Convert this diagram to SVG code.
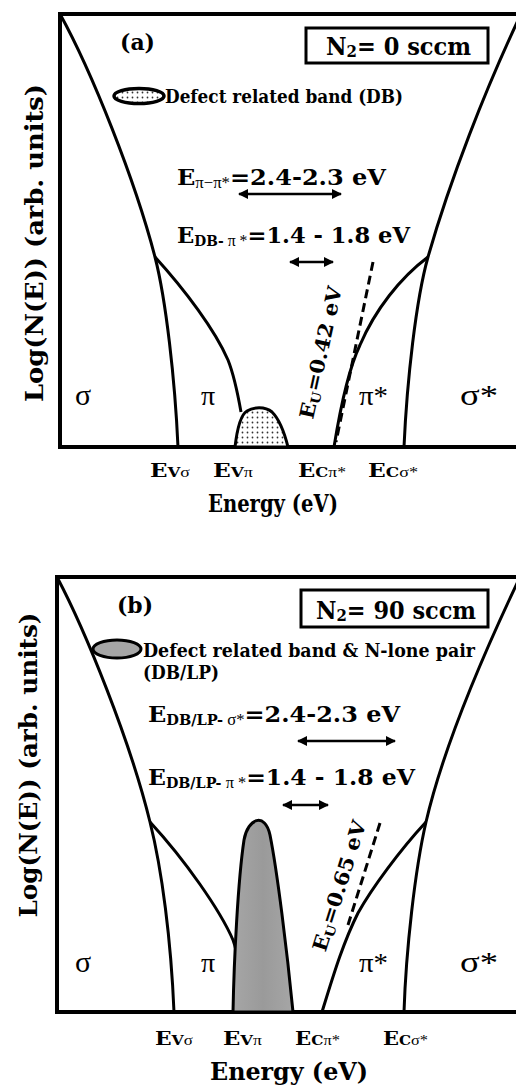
<svg xmlns="http://www.w3.org/2000/svg" width="516" height="1088" viewBox="0 0 516 1088">
<style>
.t{font-family:"DejaVu Serif","Liberation Serif",serif;font-weight:bold;fill:#000}
.g{font-family:"Liberation Serif","DejaVu Serif",serif;font-weight:normal;fill:#000}
.ax{fill:none;stroke:#000;stroke-width:4}
.cv{fill:none;stroke:#000;stroke-width:3}
.ds{fill:none;stroke:#000;stroke-width:3;stroke-dasharray:9,5}
.arr{stroke:#000;stroke-width:2.5;marker-start:url(#ah);marker-end:url(#ah)}
</style>
<defs>
<marker id="ah" viewBox="0 0 10 10" refX="9" refY="5" markerWidth="4" markerHeight="4" orient="auto-start-reverse" markerUnits="strokeWidth">
<path d="M0,0 L10,5 L0,10 Z" fill="#000"/>
</marker>
<pattern id="dots" width="5" height="5" patternUnits="userSpaceOnUse">
<rect width="5" height="5" fill="#fff"/>
<circle cx="2.5" cy="2.5" r="0.9" fill="#333"/>
</pattern>
<linearGradient id="gr" x1="0" y1="0" x2="1" y2="0">
<stop offset="0" stop-color="#a6a6a6"/>
<stop offset="0.5" stop-color="#9a9a9a"/>
<stop offset="1" stop-color="#a6a6a6"/>
</linearGradient>
</defs>
<rect width="516" height="1088" fill="#fff"/>

<!-- Panel (a) -->
<g id="panel-a-axes">
<path class="ax" d="M60,447 L60,14 L516,14"/>
<path class="ax" d="M58,447 L516,447"/>
</g>
<g id="panel-a-bands">
<path class="cv" d="M60,14 C92,72 135,180 155,257 C166,300 175,380 178,447"/>
<path class="cv" d="M155,257 C185,290 215,330 228,360 C234,375 238,395 241,412"/>
<path id="db-a" d="M235,447 C237,430 240,415 247,411 C253,407 265,406 272,412 C280,420 285,435 288,447 Z" fill="url(#dots)" stroke="#000" stroke-width="3"/>
<path class="cv" d="M334,447 C340,410 348,370 360,345 C375,310 400,278 428,257"/>
<path class="cv" d="M521,14 C485,90 450,180 428,257 C416,300 407,380 404,447"/>
</g>
<g id="connectors-a">
<path class="ds" d="M373,262 L336,442"/>
<line class="arr" x1="239" y1="194" x2="341" y2="194"/>
<line class="arr" x1="290" y1="262" x2="333" y2="262"/>
</g>
<g id="labels-a">
<text class="t" x="120" y="50" font-size="23" textLength="35" lengthAdjust="spacingAndGlyphs">(a)</text>
<g id="box-a">
<rect x="306" y="28" width="182" height="35" fill="none" stroke="#000" stroke-width="3"/>
<text class="t" x="326" y="55" font-size="24" textLength="145" lengthAdjust="spacingAndGlyphs">N<tspan font-size="16" dy="2">2</tspan><tspan dy="-2">= 0 sccm</tspan></text>
</g>
<g id="legend-a">
<ellipse cx="139" cy="96" rx="25" ry="7.5" fill="url(#dots)" stroke="#000" stroke-width="3.5"/>
<text class="t" x="165" y="103" font-size="19" textLength="238" lengthAdjust="spacingAndGlyphs">Defect related band (DB)</text>
</g>
<text class="t" x="177" y="185" font-size="23" textLength="209" lengthAdjust="spacingAndGlyphs">E<tspan class="g" font-size="16" dy="3">π−π*</tspan><tspan dy="-3">=2.4-2.3 eV</tspan></text>
<text class="t" x="177" y="243" font-size="23" textLength="233" lengthAdjust="spacingAndGlyphs">E<tspan font-size="14" dy="3">DB-</tspan><tspan class="g" font-size="16"> π *</tspan><tspan dy="-3">=1.4 - 1.8 eV</tspan></text>
<text class="t" font-size="20" text-anchor="middle" textLength="135" lengthAdjust="spacingAndGlyphs" transform="translate(327.5,354) rotate(-77.5)">E<tspan font-size="13" dy="3">U</tspan><tspan dy="-3">=0.42 eV</tspan></text>
<text class="g" x="75" y="405" font-size="30">σ</text>
<text class="g" x="201" y="405" font-size="28">π</text>
<text class="g" x="359" y="405" font-size="28" textLength="29" lengthAdjust="spacingAndGlyphs">π*</text>
<text class="g" x="460" y="405" font-size="29" textLength="38" lengthAdjust="spacingAndGlyphs">σ*</text>
<text class="t" x="150" y="477" font-size="18" textLength="40" lengthAdjust="spacingAndGlyphs">E<tspan font-size="13">V</tspan><tspan class="g" font-size="14">σ</tspan></text>
<text class="t" x="213" y="477" font-size="18" textLength="40" lengthAdjust="spacingAndGlyphs">E<tspan font-size="13">V</tspan><tspan class="g" font-size="14">π</tspan></text>
<text class="t" x="298" y="477" font-size="18" textLength="48" lengthAdjust="spacingAndGlyphs">E<tspan font-size="13">C</tspan><tspan class="g" font-size="14">π*</tspan></text>
<text class="t" x="368" y="477" font-size="18" textLength="50" lengthAdjust="spacingAndGlyphs">E<tspan font-size="13">C</tspan><tspan class="g" font-size="14">σ*</tspan></text>
<text class="t" x="208" y="512" font-size="24" textLength="130" lengthAdjust="spacingAndGlyphs">Energy (eV)</text>
<text class="t" font-size="24" text-anchor="middle" textLength="318" lengthAdjust="spacingAndGlyphs" transform="translate(43,243) rotate(-90)">Log(N(E)) (arb. units)</text>
</g>

<!-- Panel (b) -->
<g id="panel-b-axes">
<path class="ax" d="M57,1012 L57,577 L516,577"/>
<path class="ax" d="M55,1012 L516,1012"/>
</g>
<g id="panel-b-bands">
<path class="cv" d="M57,577 C85,630 130,740 150,822 C162,870 171,940 174,1012"/>
<path class="cv" d="M150,822 C185,860 220,910 233,940 C236,948 237,955 238,962"/>
<path id="db-b" d="M233,1012 C234,960 238,880 244,840 C248,818 265,812 270,835 C277,870 287,950 293,1012 Z" fill="url(#gr)" stroke="#000" stroke-width="3"/>
<path class="cv" d="M322,1012 C332,980 342,945 358,913 C372,888 400,850 426,822"/>
<path class="cv" d="M520,577 C490,640 445,740 426,822 C415,870 406,950 404,1012"/>
</g>
<g id="connectors-b">
<path class="ds" d="M380,823 L348,925"/>
<line class="arr" x1="298" y1="741" x2="395" y2="741"/>
<line class="arr" x1="283" y1="805" x2="328" y2="805"/>
</g>
<g id="labels-b">
<text class="t" x="117" y="613" font-size="23" textLength="36" lengthAdjust="spacingAndGlyphs">(b)</text>
<g id="box-b">
<rect x="301" y="590" width="187" height="37" fill="none" stroke="#000" stroke-width="3"/>
<text class="t" x="316" y="619" font-size="24" textLength="160" lengthAdjust="spacingAndGlyphs">N<tspan font-size="16" dy="2">2</tspan><tspan dy="-2">= 90 sccm</tspan></text>
</g>
<g id="legend-b">
<ellipse cx="117" cy="649" rx="24" ry="9" fill="#a6a6a6" stroke="#000" stroke-width="3"/>
<text class="t" x="143" y="657" font-size="19" textLength="332" lengthAdjust="spacingAndGlyphs">Defect related band &amp; N-lone pair</text>
<text class="t" x="143" y="679" font-size="19" textLength="76" lengthAdjust="spacingAndGlyphs">(DB/LP)</text>
</g>
<text class="t" x="148" y="722" font-size="23" textLength="252" lengthAdjust="spacingAndGlyphs">E<tspan font-size="14" dy="3">DB/LP-</tspan><tspan class="g" font-size="16"> σ*</tspan><tspan dy="-3">=2.4-2.3 eV</tspan></text>
<text class="t" x="148" y="785" font-size="23" textLength="267" lengthAdjust="spacingAndGlyphs">E<tspan font-size="14" dy="3">DB/LP-</tspan><tspan class="g" font-size="16"> π *</tspan><tspan dy="-3">=1.4 - 1.8 eV</tspan></text>
<text class="t" font-size="20" text-anchor="middle" textLength="136" lengthAdjust="spacingAndGlyphs" transform="translate(346,888) rotate(-72.5)">E<tspan font-size="13" dy="3">U</tspan><tspan dy="-3">=0.65 eV</tspan></text>
<text class="g" x="75" y="972" font-size="30">σ</text>
<text class="g" x="201" y="972" font-size="28">π</text>
<text class="g" x="359" y="972" font-size="28" textLength="29" lengthAdjust="spacingAndGlyphs">π*</text>
<text class="g" x="460" y="972" font-size="29" textLength="38" lengthAdjust="spacingAndGlyphs">σ*</text>
<text class="t" x="155" y="1045" font-size="18" textLength="38" lengthAdjust="spacingAndGlyphs">E<tspan font-size="13">V</tspan><tspan class="g" font-size="14">σ</tspan></text>
<text class="t" x="223" y="1045" font-size="18" textLength="39" lengthAdjust="spacingAndGlyphs">E<tspan font-size="13">V</tspan><tspan class="g" font-size="14">π</tspan></text>
<text class="t" x="295" y="1045" font-size="18" textLength="45" lengthAdjust="spacingAndGlyphs">E<tspan font-size="13">C</tspan><tspan class="g" font-size="14">π*</tspan></text>
<text class="t" x="383" y="1045" font-size="18" textLength="45" lengthAdjust="spacingAndGlyphs">E<tspan font-size="13">C</tspan><tspan class="g" font-size="14">σ*</tspan></text>
<text class="t" x="210" y="1080" font-size="24" textLength="158" lengthAdjust="spacingAndGlyphs">Energy (eV)</text>
<text class="t" font-size="24" text-anchor="middle" textLength="305" lengthAdjust="spacingAndGlyphs" transform="translate(37,765) rotate(-90)">Log(N(E)) (arb. units)</text>
</g>
</svg>
